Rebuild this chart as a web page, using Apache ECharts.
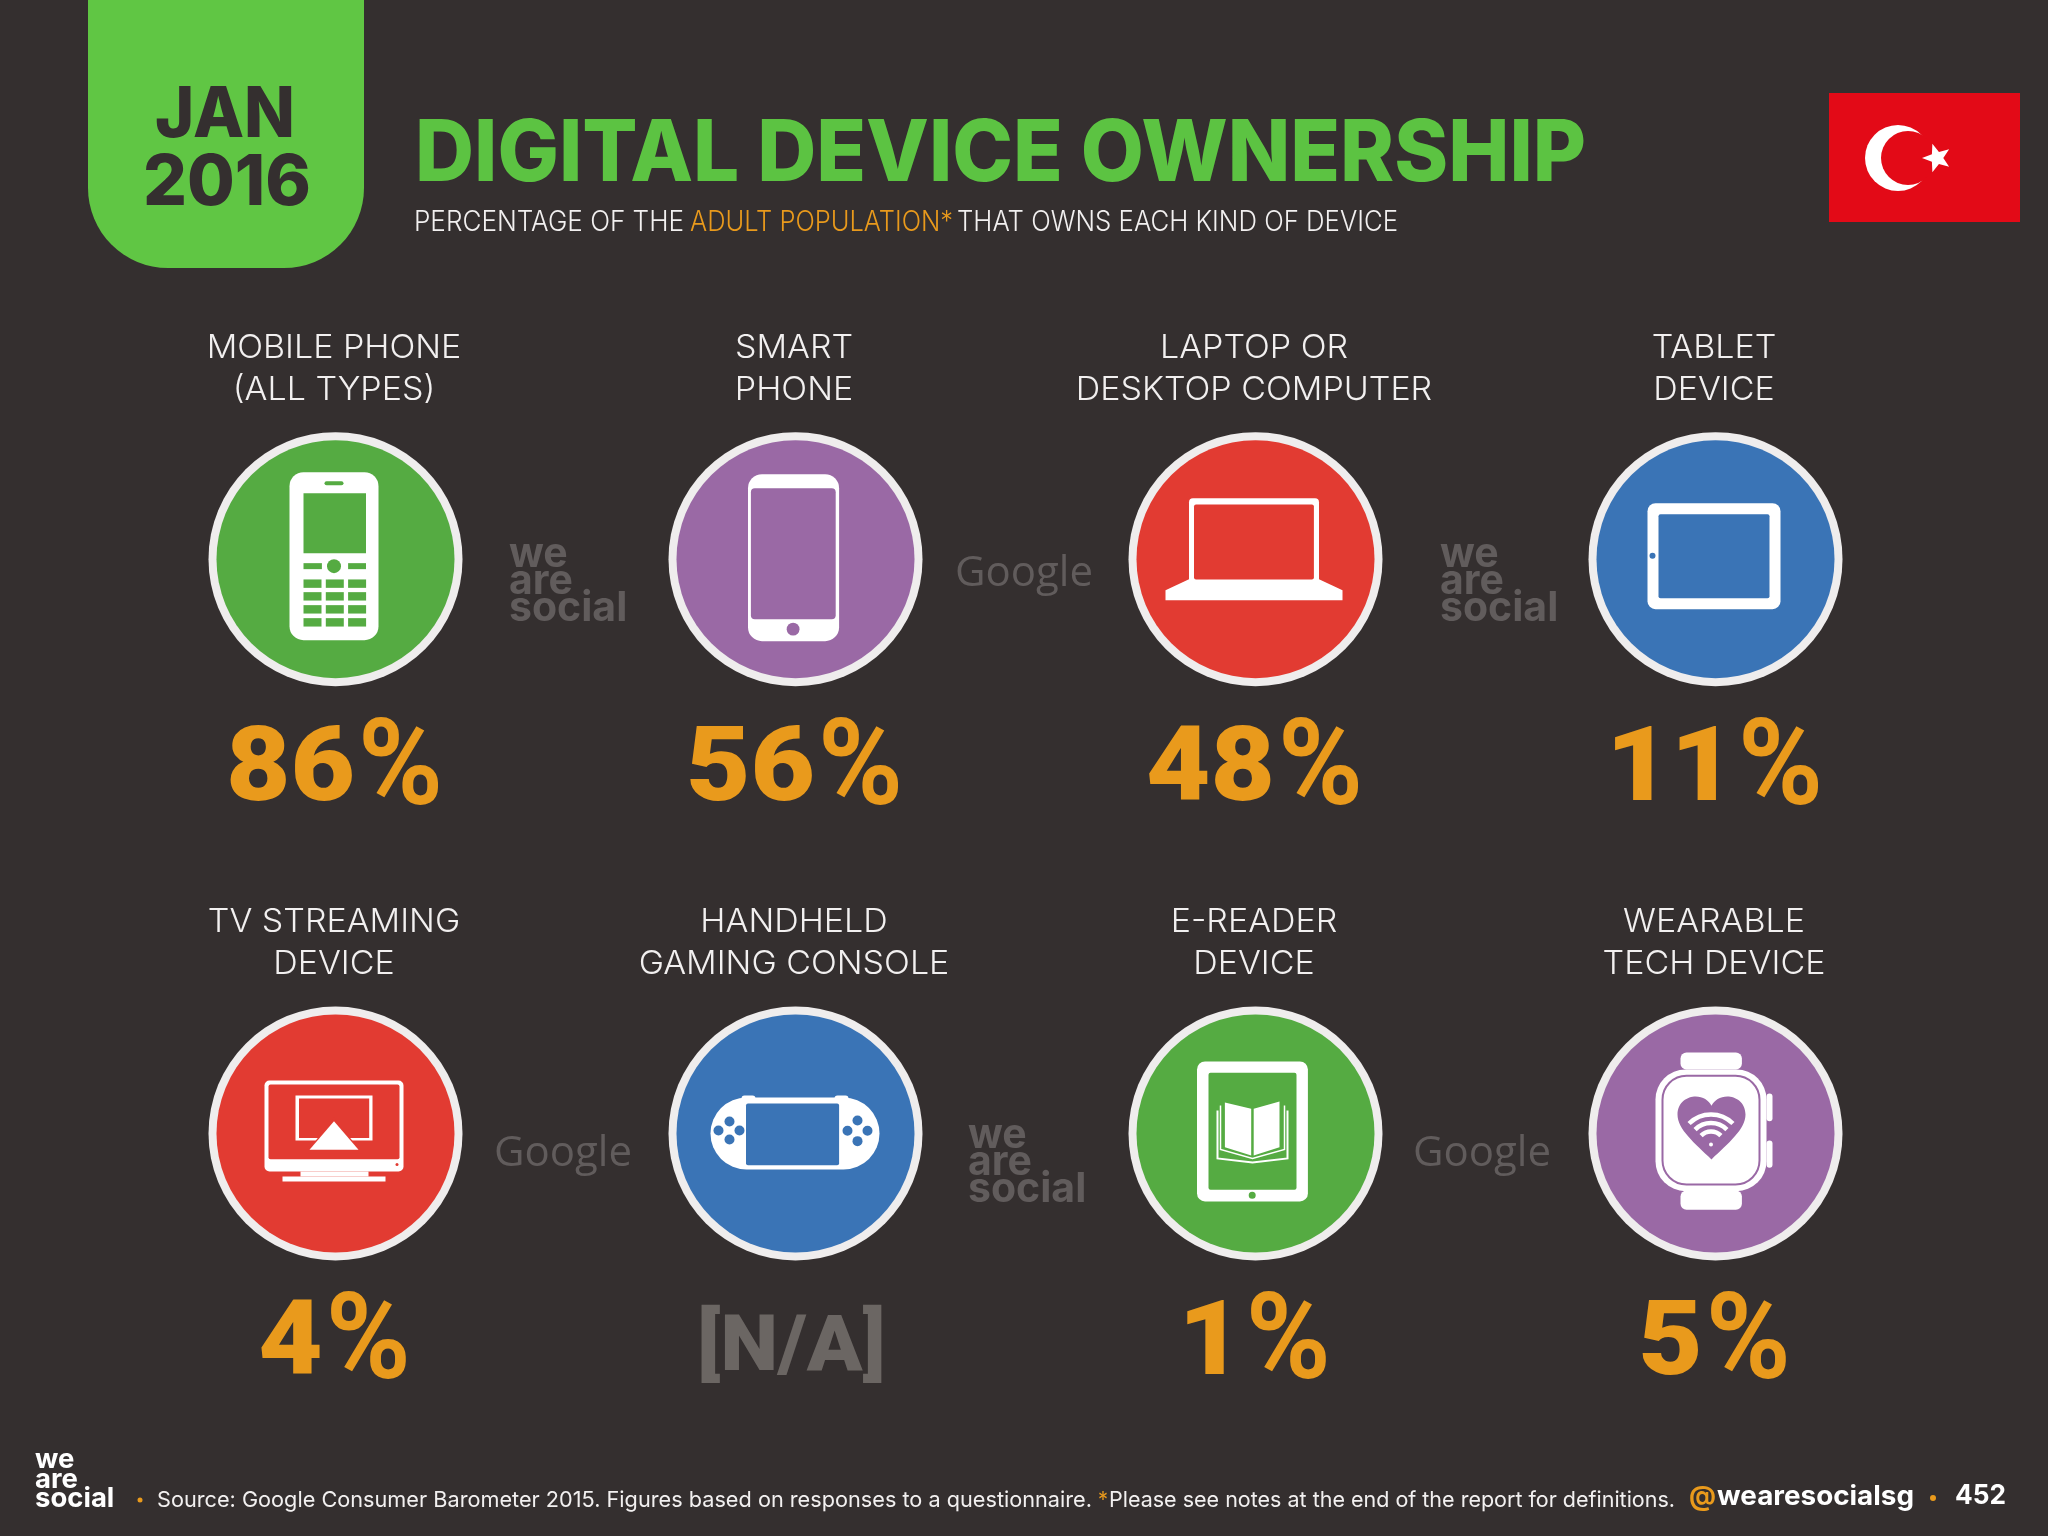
<!DOCTYPE html>
<html>
<head>
<meta charset="utf-8">
<title>Digital Device Ownership</title>
<script src="https://cdn.jsdelivr.net/npm/echarts@6/dist/echarts.min.js"></script>
<style>
  html, body { margin: 0; padding: 0; background: #342f2f; }
  #main { width: 2048px; height: 1536px; }
</style>
</head>
<body>
<div id="main"></div>
<script>
// chart data
var columns = ['col1', 'col2', 'col3', 'col4'];
var rows = ['row1', 'row2'];
var devices = [
  ['MOBILE PHONE', '(ALL TYPES)'],
  ['SMART', 'PHONE'],
  ['LAPTOP OR', 'DESKTOP COMPUTER'],
  ['TABLET', 'DEVICE'],
  ['TV STREAMING', 'DEVICE'],
  ['HANDHELD', 'GAMING CONSOLE'],
  ['E-READER', 'DEVICE'],
  ['WEARABLE', 'TECH DEVICE']
];
var ownership = [86, 56, 48, 11, 4, null, 1, 5];

var BG = '#342f2f';
var ORANGE = '#e99a1c';
var GREEN = '#55ab42';
var PURPLE = '#9a69a5';
var RED = '#e23b32';
var BLUE = '#3a74b6';
var WHITE = '#ffffff';
var circleColors = [GREEN, PURPLE, RED, BLUE, RED, BLUE, GREEN, PURPLE];
var LABEL_FONT = 'Inter';
var VALUE_FONT = 'Roboto';

// measure so text can be squeezed to the width it has in the slide
var measureCtx = document.createElement('canvas').getContext('2d');
function textWidth(text, size, weight, family) {
  measureCtx.font = weight + ' ' + size + 'px "' + family + '"';
  return measureCtx.measureText(text).width;
}
function fitScale(text, size, weight, family, width) {
  return width / textWidth(text, size, weight, family);
}
function fitText(text, x0, x1, y, size, weight, family, fill) {
  return {
    type: 'text', x: x0, y: y,
    scaleX: fitScale(text, size, weight, family, x1 - x0),
    style: {
      text: text, x: 0, y: 0, fill: fill, fontSize: size, fontWeight: weight, fontFamily: family,
      textAlign: 'left', textVerticalAlign: 'middle'
    }
  };
}

// icon helpers, coordinates relative to the circle centre
function box(x0, y0, x1, y1, r, fill) {
  return { type: 'rect', shape: { x: x0, y: y0, width: x1 - x0, height: y1 - y0, r: r || 0 }, style: { fill: fill } };
}
function dot(cx, cy, r, fill) {
  return { type: 'circle', shape: { cx: cx, cy: cy, r: r }, style: { fill: fill } };
}
function poly(points, fill) {
  return { type: 'polygon', shape: { points: points }, style: { fill: fill } };
}
function strokeLine(points, color, w) {
  return { type: 'polyline', shape: { points: points }, style: { fill: null, stroke: color, lineWidth: w } };
}
function wave(cx, cy, r) {
  return {
    type: 'arc',
    shape: { cx: cx, cy: cy, r: r, startAngle: -Math.PI * 0.75, endAngle: -Math.PI * 0.25, clockwise: true },
    style: { fill: null, stroke: WHITE, lineWidth: 4.5 }
  };
}

var icons = {
  mobile: function (c) {
    var out = [
      box(-46, -87, 43, 81, 14, WHITE),
      box(-11, -78, 8, -74, 2, c),
      box(-32, -66, 30.5, -6, 0, c),
      box(-32, 4, -13.6, 10, 0, c),
      box(12.6, 4, 30.5, 10, 0, c),
      dot(-1.5, 7, 7, c)
    ];
    var ys = [20.3, 33, 46, 59];
    var xs = [-32, -9.7, 12.6];
    ys.forEach(function (y) {
      xs.forEach(function (x) {
        out.push(box(x, y, x + 18, y + 8.4, 0, c));
      });
    });
    return out;
  },
  smart: function (c) {
    return [
      box(-47.5, -85, 43.6, 82, 14, WHITE),
      box(-44.6, -71, 40.2, 60, 4, c),
      dot(-2.4, 70, 6.4, c)
    ];
  },
  laptop: function (c) {
    return [
      box(-66.5, -61, 63.5, 26, 4, WHITE),
      poly([[-66.5, 20], [63.5, 20], [87, 31], [87, 41], [-90, 41], [-90, 31]], WHITE),
      box(-61.5, -54.7, 58.4, 20.3, 2, c)
    ];
  },
  tablet: function (c) {
    return [
      box(-68, -56, 65, 50, 8, WHITE),
      box(-57, -45, 54, 39, 2, c),
      dot(-63, -3.3, 3, c)
    ];
  },
  tv: function (c) {
    return [
      box(-71, -53, 68, 38, 5, WHITE),
      box(-67, -49, 64, 25.7, 2, c),
      box(-35, 38, 33, 43, 0, WHITE),
      box(-53, 43, 50, 48, 0, WHITE),
      box(-40, -38, 37, 7, 0, WHITE),
      box(-36.5, -35, 33.7, 4.5, 0, c),
      poly([[-1.5, -16], [-30, 20], [27, 20]], c),
      poly([[-1.5, -12.3], [-26, 16.3], [23, 16.3]], WHITE),
      dot(61.5, 31, 1.5, c)
    ];
  },
  console: function (c) {
    var out = [
      box(-54, -38, -40, -30, 3, WHITE),
      box(39, -38, 53, -30, 3, WHITE),
      box(-85, -36, 84, 36, 36, WHITE),
      box(-49.5, -30, 43.6, 31.7, 2, c)
    ];
    [[-66, -12], [-66, 6], [-77, -3], [-56, -3], [62, -13], [62, 7.7], [52, -2.7], [72, -2.7]].forEach(function (p) {
      out.push(dot(p[0], p[1], 5, c));
    });
    return out;
  },
  reader: function (c) {
    return [
      box(-58.5, -72, 52.4, 68, 8, WHITE),
      box(-47, -60.7, 41, 56.3, 2, c),
      dot(-3.3, 61.7, 3.5, c),
      strokeLine([[-35, -28], [-35, 16], [-3, 25], [29, 16], [29, -28]], WHITE, 1.5),
      strokeLine([[-38, -23], [-38, 25], [-3, 29], [32, 25], [32, -23]], WHITE, 2),
      poly([[-30.6, -31], [-4.3, -24.7], [-4.3, 22], [-30.6, 13.7]], WHITE),
      poly([[-1.8, -24.7], [24, -32], [24, 13.7], [-1.8, 22]], WHITE)
    ];
  },
  watch: function (c) {
    return [
      box(-35, -81, 26.4, -64, 6, WHITE),
      box(-35, 57, 26.4, 76.3, 6, WHITE),
      box(51, -40, 57, -12.3, 3, WHITE),
      box(51, 7, 57, 34.3, 3, WHITE),
      box(-60, -64, 51, 57.7, 30, WHITE),
      {
        type: 'rect',
        shape: { x: -53, y: -57.7, width: 97, height: 108.7, r: 24 },
        style: { fill: WHITE, stroke: c, lineWidth: 2 }
      },
      {
        type: 'path',
        shape: {
          pathData: 'M0 100 C-30 70 -60 45 -60 18 C-60 -5 -42 -15 -28 -15 C-15 -15 -5 -8 0 2 C5 -8 15 -15 28 -15 C42 -15 60 -5 60 18 C60 45 30 70 0 100 Z',
          x: -38, y: -37, width: 68, height: 63, layout: 'cover'
        },
        style: { fill: c }
      },
      wave(-4.5, 12, 31),
      wave(-4.5, 12, 22.5),
      wave(-4.5, 12, 14),
      dot(-4.5, 11, 2, WHITE)
    ];
  }
};
var iconNames = ['mobile', 'smart', 'laptop', 'tablet', 'tv', 'console', 'reader', 'watch'];

// digits and the taller percent sign are drawn as two texts
function valueTexts(value) {
  if (value === null) {
    return [{
      type: 'text', x: -4, y: 217.5, scaleX: 1.05,
      style: {
        text: '[N/A]', fill: '#6b6663', fontSize: 78, fontWeight: 900, fontFamily: VALUE_FONT,
        textAlign: 'center', textVerticalAlign: 'middle'
      }
    }];
  }
  var digits = String(value);
  var digitW = textWidth(digits, 104, 900, VALUE_FONT) * 1.07;
  var percentW = 85;
  var total = digitW + 3 + percentW;
  return [
    {
      type: 'text', x: -total / 2 - 1, y: 215, scaleX: 1.07,
      style: {
        text: digits, fill: ORANGE, fontSize: 104, fontWeight: 900, fontFamily: VALUE_FONT,
        textAlign: 'left', textVerticalAlign: 'middle'
      }
    },
    {
      type: 'text', x: total / 2 - percentW - 1, y: 215,
      scaleX: fitScale('%', 120, 700, VALUE_FONT, percentW),
      style: {
        text: '%', fill: ORANGE, fontSize: 120, fontWeight: 700, fontFamily: VALUE_FONT,
        textAlign: 'left', textVerticalAlign: 'middle'
      }
    }
  ];
}

function renderDevice(params, api) {
  var i = params.dataIndex;
  var pt = api.coord([api.value(0), api.value(1)]);
  var color = circleColors[i];
  var children = [
    { type: 'circle', shape: { cx: 0, cy: 0, r: 127 }, style: { fill: '#efeded' } },
    { type: 'circle', shape: { cx: 0, cy: 0, r: 119 }, style: { fill: color } },
    { type: 'group', children: icons[iconNames[i]](color) }
  ];
  devices[i].forEach(function (line, n) {
    children.push({
      type: 'text', x: -1.5, y: -211.5 + n * 42.5,
      scaleX: 1.03,
      style: {
        text: line, fill: '#f2f0f0', fontSize: 33, fontWeight: 300, fontFamily: LABEL_FONT,
        textAlign: 'center', textVerticalAlign: 'middle'
      }
    });
  });
  children = children.concat(valueTexts(ownership[i]));
  return { type: 'group', x: pt[0], y: pt[1], children: children };
}

function starPoints(cx, cy, r) {
  var pts = [];
  for (var i = 0; i < 10; i++) {
    var a = -Math.PI / 2 + i * Math.PI / 5 - Math.PI / 2;
    var rr = i % 2 ? r * 0.42 : r;
    pts.push([cx + rr * Math.cos(a), cy + rr * Math.sin(a)]);
  }
  return pts;
}

function weAreSocial(x, y, size, gap, fill) {
  return ['we', 'are', 'social'].map(function (t, n) {
    return {
      type: 'text', x: x, y: y + n * gap,
      style: {
        text: t, fill: fill, fontSize: size, fontWeight: 700, fontFamily: 'Inter',
        textAlign: 'left', textVerticalAlign: 'middle'
      }
    };
  });
}
function googleMark(x, y) {
  return {
    type: 'text', x: x, y: y,
    style: {
      text: 'Google', fill: '#615c5c', fontSize: 42, fontWeight: 400, fontFamily: 'Open Sans',
      textAlign: 'center', textVerticalAlign: 'middle'
    }
  };
}

var decoration = [
  // date tab
  { type: 'rect', shape: { x: 88, y: -90, width: 276, height: 358, r: 80 }, style: { fill: '#60c644' } },
  fitText('JAN', 155, 295, 116, 70, 800, 'Inter', BG),
  fitText('2016', 143, 311, 184, 70, 800, 'Inter', BG),
  // heading
  fitText('DIGITAL DEVICE OWNERSHIP', 415, 1586, 155, 85, 800, 'Inter', '#5cc342'),
  fitText('PERCENTAGE OF THE', 414, 684, 222.5, 28, 300, 'Inter', '#f2f0f0'),
  fitText('ADULT POPULATION*', 690, 953, 222.5, 28, 300, 'Inter', ORANGE),
  fitText('THAT OWNS EACH KIND OF DEVICE', 957, 1398, 222.5, 28, 300, 'Inter', '#f2f0f0'),
  // flag
  { type: 'rect', shape: { x: 1829, y: 93, width: 191, height: 129 }, style: { fill: '#e30a17' } },
  { type: 'circle', shape: { cx: 1898, cy: 158, r: 33 }, style: { fill: WHITE } },
  { type: 'circle', shape: { cx: 1908, cy: 158, r: 27 }, style: { fill: '#e30a17' } },
  { type: 'polygon', shape: { points: starPoints(1937, 158, 15) }, style: { fill: WHITE } },
  // watermarks
  googleMark(1024, 574),
  googleMark(563, 1154),
  googleMark(1482, 1154)
];
decoration = decoration
  .concat(weAreSocial(509, 555, 41, 27, '#615c5c'))
  .concat(weAreSocial(1440, 555, 41, 27, '#615c5c'))
  .concat(weAreSocial(968, 1136, 41, 27, '#615c5c'))
  // footer
  .concat(weAreSocial(35, 1460, 27.5, 19.6, WHITE))
  .concat([
    dot(140, 1500, 2.5, ORANGE),
    fitText('Source: Google Consumer Barometer 2015. Figures based on responses to a questionnaire.', 157, 1092, 1500, 22, 400, 'Inter', '#f2f0f0'),
    fitText('*', 1098, 1108, 1500, 22, 400, 'Inter', ORANGE),
    fitText('Please see notes at the end of the report for definitions.', 1109, 1675, 1500, 22, 400, 'Inter', '#f2f0f0'),
    fitText('@', 1689, 1716, 1497, 27, 700, 'Inter', ORANGE),
    fitText('wearesocialsg', 1717, 1914, 1497, 27, 700, 'Inter', WHITE),
    dot(1933, 1498, 3, ORANGE),
    fitText('452', 1955, 2006, 1496, 27, 700, 'Inter', WHITE)
  ]);

var chartData = ownership.map(function (v, i) {
  return [i % columns.length, Math.floor(i / columns.length), v === null ? '-' : v];
});

var myChart = echarts.init(document.getElementById('main'));
myChart.setOption({
  backgroundColor: BG,
  animation: false,
  grid: { left: 105.5, width: 1840, top: 272, height: 1148.6 },
  xAxis: { type: 'category', data: columns, show: false },
  yAxis: { type: 'category', data: rows, show: false, inverse: true },
  graphic: decoration,
  series: [
    {
      type: 'custom',
      coordinateSystem: 'cartesian2d',
      renderItem: renderDevice,
      encode: { x: 0, y: 1 },
      data: chartData,
      clip: false
    }
  ]
});
</script>
</body>
</html>
